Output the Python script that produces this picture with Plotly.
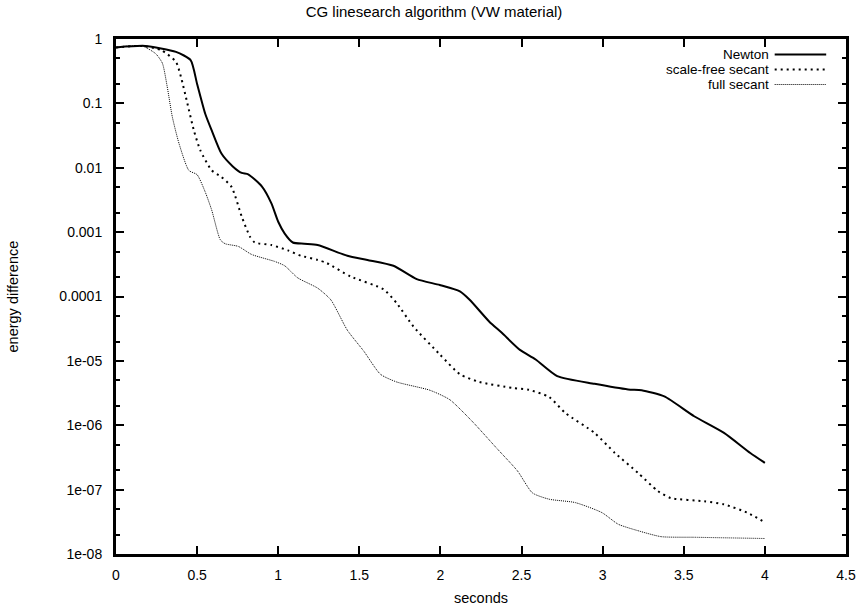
import plotly.graph_objects as go

# ---- data ----
newton_x = [0, 0.18, 0.37, 0.46, 0.5, 0.55, 0.59, 0.65, 0.72, 0.775, 0.815, 0.9, 0.958, 1.0, 1.04,
            1.09, 1.16, 1.243, 1.426, 1.55, 1.71, 1.854, 1.996, 2.12, 2.18, 2.3, 2.38, 2.49, 2.587,
            2.72, 2.95, 3.157, 3.24, 3.38, 3.564, 3.748, 3.91, 4.0]
newton_y = [0.74, 0.78, 0.63, 0.47, 0.20, 0.069, 0.038, 0.0166, 0.0105, 0.0083, 0.0079, 0.0051,
            0.0028, 0.00145, 0.00095, 0.00069, 0.00066, 0.00063, 0.00043, 0.00037, 0.00030,
            0.000186, 0.000151, 0.00012, 0.000089, 4.1e-5, 2.7e-5, 1.48e-5, 1.05e-5, 5.8e-6,
            4.4e-6, 3.6e-6, 3.5e-6, 2.8e-6, 1.38e-6, 7.6e-7, 3.7e-7, 2.6e-7]

sfs_x = [0, 0.16, 0.28, 0.37, 0.4, 0.44, 0.48, 0.52, 0.59, 0.65, 0.713, 0.775, 0.826, 0.856, 0.958,
         1.06, 1.14, 1.243, 1.30, 1.447, 1.65, 1.73, 1.834, 1.996, 2.12, 2.24, 2.445, 2.546, 2.67,
         2.77, 2.95, 3.076, 3.218, 3.34, 3.42, 3.626, 3.748, 3.89, 4.0]
sfs_y = [0.74, 0.78, 0.67, 0.44, 0.26, 0.10, 0.038, 0.0186, 0.0091, 0.0072, 0.0050, 0.00174,
         0.00085, 0.00069, 0.00063, 0.00052, 0.00043, 0.00037, 0.00033, 0.000204, 0.000129,
         7.9e-5, 3.4e-5, 1.26e-5, 6.2e-6, 4.7e-6, 3.8e-6, 3.55e-6, 2.75e-6, 1.55e-6, 7.6e-7,
         3.7e-7, 1.82e-7, 9.5e-8, 7.4e-8, 6.6e-8, 5.9e-8, 4.4e-8, 3.1e-8]

fs_x = [0, 0.16, 0.245, 0.286, 0.316, 0.347, 0.388, 0.449, 0.5, 0.55, 0.59, 0.643, 0.673, 0.754,
        0.836, 0.979, 1.04, 1.12, 1.243, 1.324, 1.426, 1.528, 1.63, 1.73, 1.935, 2.057, 2.2,
        2.343, 2.475, 2.567, 2.67, 2.83, 2.995, 3.096, 3.218, 3.36, 3.564, 4.0]
fs_y = [0.74, 0.78, 0.59, 0.42, 0.18, 0.062, 0.024, 0.0091, 0.0078, 0.0042, 0.0022, 0.00076,
        0.00066, 0.0006, 0.00045, 0.00035, 0.00030, 0.000195, 0.000135, 8.9e-5, 3.0e-5,
        1.41e-5, 6.2e-6, 4.7e-6, 3.5e-6, 2.5e-6, 1.12e-6, 4.5e-7, 1.95e-7, 8.9e-8, 7.1e-8,
        6.3e-8, 4.4e-8, 2.9e-8, 2.3e-8, 1.86e-8, 1.82e-8, 1.74e-8]

series_names = ["Newton", "scale-free secant", "full secant"]

x_tickvals = [0, 0.5, 1, 1.5, 2, 2.5, 3, 3.5, 4, 4.5]
x_ticktext = ["0", "0.5", "1", "1.5", "2", "2.5", "3", "3.5", "4", "4.5"]
y_tickvals = [1, 0.1, 0.01, 0.001, 0.0001, 1e-5, 1e-6, 1e-7, 1e-8]
y_ticktext = ["1", "0.1", "0.01", "0.001", "0.0001", "1e-05", "1e-06", "1e-07", "1e-08"]
y_minor = [m * 10.0 ** e for e in range(-8, 0) for m in (2, 5)]

title_text = "CG linesearch algorithm (VW material)"
x_title = "seconds"
y_title = "energy difference"

FONT = "Liberation Sans, Arial, Helvetica, sans-serif"

styles = [
    dict(color="black", width=2, dash="solid"),
    dict(color="black", width=2, dash="2px,4px"),
    dict(color="black", width=1, dash="1px,1px"),
]

fig = go.Figure()
for (xs, ys), name, st in zip([(newton_x, newton_y), (sfs_x, sfs_y), (fs_x, fs_y)],
                              series_names, styles):
    fig.add_trace(go.Scatter(x=xs, y=ys, mode="lines", name=name,
                             line=dict(shape="spline", smoothing=0.6, **st),
                             showlegend=False))

W, H = 868, 609
L, R, T, B = 116, 15, 39, 55
pw, ph = W - L - R, H - T - B

def px2paper_x(px):
    return (px - L) / pw

def py2paper_y(py):
    return 1 - (py - T) / ph

# custom gnuplot-style legend (text right-aligned, sample to the right)
legend_rows = [54.5, 69.5, 84.5]
for name, st, row in zip(series_names, styles, legend_rows):
    fig.add_annotation(x=px2paper_x(776), y=py2paper_y(row), xref="paper", yref="paper",
                       text=name, showarrow=False, xanchor="right", yanchor="middle",
                       borderpad=0,
                       font=dict(family=FONT, size=13.5, color="black"))
    fig.add_shape(type="line", xref="paper", yref="paper",
                  x0=px2paper_x(781), x1=px2paper_x(833),
                  y0=py2paper_y(row), y1=py2paper_y(row),
                  line=dict(color=st["color"], width=st["width"], dash=st["dash"]))

fig.add_annotation(x=0.5, y=py2paper_y(598), xref="paper", yref="paper", text=x_title,
                   showarrow=False, xanchor="center", yanchor="middle",
                   font=dict(family=FONT, size=14.5, color="black"))
fig.add_annotation(x=px2paper_x(12), y=0.5, xref="paper", yref="paper", text=y_title,
                   showarrow=False, xanchor="center", yanchor="middle", textangle=-90,
                   font=dict(family=FONT, size=14.5, color="black"))

axis_common = dict(showline=True, linecolor="black", linewidth=3, mirror="ticks",
                   ticks="inside", ticklen=8, tickwidth=1.5, tickcolor="black",
                   showgrid=False, zeroline=False,
                   tickfont=dict(family=FONT, size=14, color="black"))

fig.update_layout(
    width=W, height=H,
    margin=dict(l=L, r=R, t=T, b=B, pad=0),
    paper_bgcolor="white", plot_bgcolor="white",
    title=dict(text=title_text, x=0.5, xref="container", y=1 - 12 / H, yref="container",
               xanchor="center", yanchor="middle",
               font=dict(family=FONT, size=15, color="black")),
    xaxis=dict(range=[0, 4.5], tickvals=x_tickvals, ticktext=x_ticktext,
               ticklabelstandoff=6, **axis_common),
    yaxis=dict(type="log", range=[-8, 0], tickvals=y_tickvals, ticktext=y_ticktext,
               ticklabelstandoff=8,
               minor=dict(tickvals=y_minor, ticks="inside", ticklen=4, tickwidth=1.5,
                          tickcolor="black", showgrid=False),
               **axis_common),
)

fig.write_html("out.html")
